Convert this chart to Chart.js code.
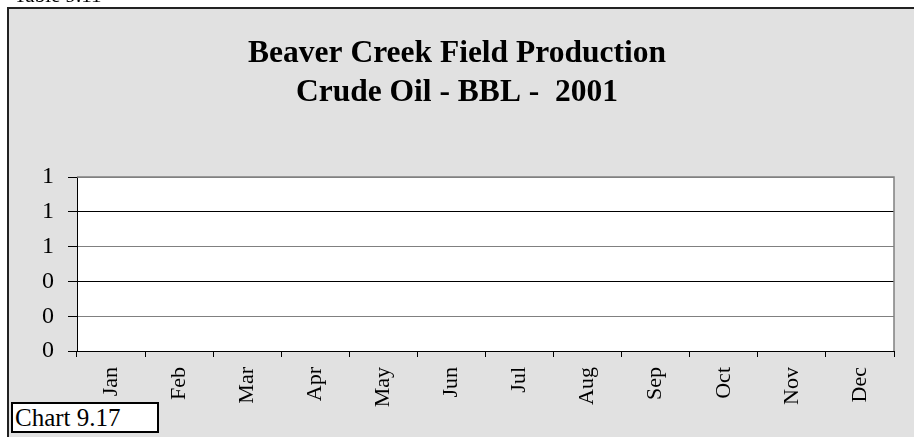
<!DOCTYPE html>
<html>
<head>
<meta charset="utf-8">
<title>Beaver Creek Field Production - Crude Oil 2001</title>
<script src="https://cdn.jsdelivr.net/npm/chart.js"></script>
<style>
  body { margin: 0; background: #fff; }
  .wrap { position: relative; width: 914px; height: 437px; overflow: hidden; }
  .table-no {
    position: absolute; left: 14px; top: -17px;
    font: 21px 'Liberation Serif', 'Times New Roman', serif; color: #000;
  }
  .chart-no {
    position: absolute; left: 11px; top: 402px; width: 142px; height: 27px;
    border: 2px solid #000; background: #fff; padding-left: 2px;
    font: 25px/27px 'Liberation Serif', 'Times New Roman', serif; color: #000;
    white-space: nowrap;
  }
</style>
</head>
<body>
<div class="wrap">
  <canvas id="oil-chart" width="914" height="437"></canvas>
  <div class="table-no">Table 9.11</div>
  <div class="chart-no">Chart 9.17</div>
</div>
<script>
// 차트 데이터
const months = ['Jan', 'Feb', 'Mar', 'Apr', 'May', 'Jun', 'Jul', 'Aug', 'Sep', 'Oct', 'Nov', 'Dec'];
// no production reported for 2001
const crudeOilBbl = [null, null, null, null, null, null, null, null, null, null, null, null];
const yTickLabels = ['0', '0', '0', '1', '1', '1'];

const serif = "'Liberation Serif', 'Times New Roman', serif";

// 회색 패널 + 흰색 플롯 영역
const panelPlugin = {
  id: 'panel',
  beforeDraw(chart) {
    const ctx = chart.ctx;
    const a = chart.chartArea;
    ctx.save();
    ctx.fillStyle = '#fff';
    ctx.fillRect(0, 0, chart.width, chart.height);
    ctx.fillStyle = '#e1e1e1';
    ctx.fillRect(7, 7, chart.width, chart.height);
    ctx.strokeStyle = '#222';
    ctx.lineWidth = 2;
    ctx.beginPath();
    ctx.moveTo(8, chart.height);
    ctx.lineTo(8, 8);
    ctx.lineTo(chart.width, 8);
    ctx.stroke();
    ctx.fillStyle = '#fff';
    ctx.fillRect(a.left, a.top, a.right - a.left, a.bottom - a.top);
    ctx.restore();
  },
  afterDraw(chart) {
    const ctx = chart.ctx;
    const a = chart.chartArea;
    ctx.save();
    ctx.strokeStyle = '#808080';
    ctx.lineWidth = 1.5;
    ctx.beginPath();
    ctx.moveTo(a.left, a.top);
    ctx.lineTo(a.right, a.top);
    ctx.lineTo(a.right, a.bottom);
    ctx.stroke();
    ctx.restore();
  }
};

new Chart(document.getElementById('oil-chart'), {
  type: 'line',
  data: {
    labels: months,
    datasets: [{
      label: 'Crude Oil (BBL)',
      data: crudeOilBbl,
      borderColor: '#000080',
      backgroundColor: '#000080',
      borderWidth: 2
    }]
  },
  options: {
    responsive: false,
    animation: false,
    layout: { padding: 0 },
    scales: {
      x: {
        offset: true,
        grid: {
          offset: true,
          drawOnChartArea: false,
          tickLength: 6,
          tickColor: '#000'
        },
        border: { color: '#000', width: 1 },
        ticks: {
          minRotation: 90,
          maxRotation: 90,
          padding: 10,
          color: '#000',
          font: { family: serif, size: 22 }
        },
        afterFit(scale) { scale.height = 86; }
      },
      y: {
        min: 0,
        max: 1,
        grid: {
          color: (c) => (c.index % 2 === 0 ? '#000' : '#808080'),
          tickColor: '#000',
          tickLength: 9
        },
        border: { color: '#000', width: 1 },
        ticks: {
          stepSize: 0.2,
          padding: 14,
          color: '#000',
          font: { family: serif, size: 24 },
          callback: function(value, index) {
            return yTickLabels[index];
          }
        },
        afterFit(scale) { scale.width = 77; }
      },
      // empty strip on the right so the title stays centred on the panel
      yRight: {
        position: 'right',
        grid: { display: false },
        border: { display: false },
        ticks: { display: false },
        afterFit(scale) { scale.width = 20; }
      }
    },
    plugins: {
      legend: { display: false },
      tooltip: { enabled: false },
      title: {
        display: true,
        text: ['Beaver Creek Field Production', 'Crude Oil - BBL -  2001'],
        color: '#000',
        font: { family: serif, size: 31.5, weight: 'bold', lineHeight: 1.24 },
        padding: { top: 34, bottom: 65 }
      }
    }
  },
  plugins: [panelPlugin]
});
</script>
</body>
</html>
